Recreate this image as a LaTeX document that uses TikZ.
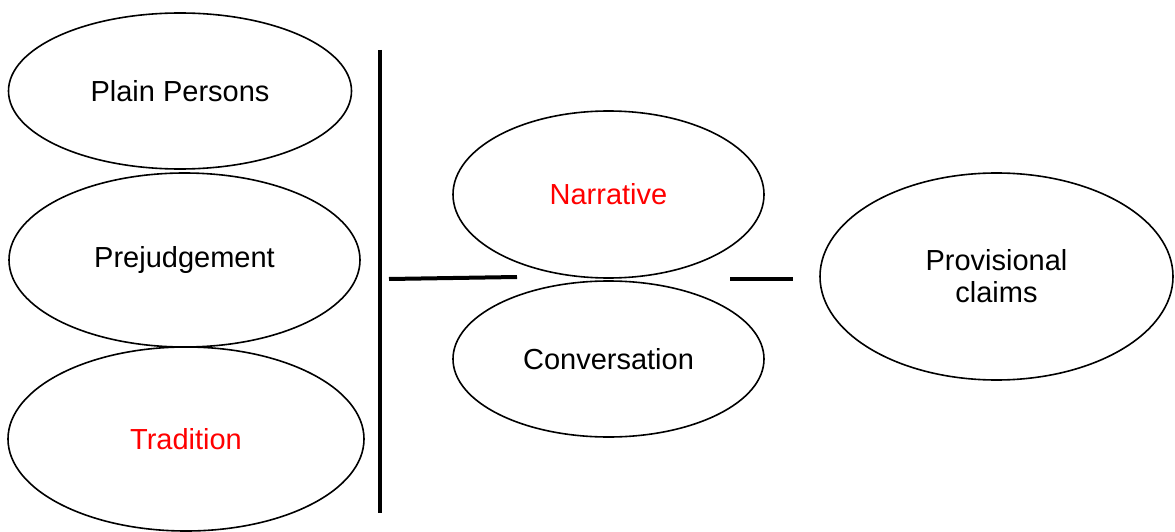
\documentclass[tikz,border=0pt]{standalone}
\usepackage{fontspec}
\setmainfont{Liberation Sans}
\usetikzlibrary{shapes.geometric}
\definecolor{accent}{RGB}{255,0,0}
\begin{document}
\begin{tikzpicture}[x=1pt,y=-1pt,
  oval/.style={draw=black, ellipse, line width=1.6pt, inner sep=0pt,
    font=\fontsize{29}{32}\selectfont, align=center},
  bar/.style={line width=4pt, black}]
\useasboundingbox (0,0) rectangle (1175,532);
\node[oval, minimum width=343pt, minimum height=156pt] (plain) at (180,91) {Plain Persons};
\node[oval, minimum width=351pt, minimum height=174pt] (prej) at (184.5,260) {Prejudgement};
\node[oval, minimum width=356pt, minimum height=184pt, text=accent] (trad) at (186,439) {Tradition};
\node[oval, minimum width=311pt, minimum height=167pt, text=accent] (narr) at (608.5,194.5) {Narrative};
\node[oval, minimum width=311pt, minimum height=156pt] (conv) at (608.5,359) {Conversation};
\node[oval, minimum width=353pt, minimum height=207pt] (prov) at (996.5,276.5) {Provisional\\claims};
\coordinate (vtop) at (380,50);
\coordinate (vbot) at (380,513);
\coordinate (la) at (389,279);
\coordinate (lb) at (517,277);
\coordinate (ra) at (730,279);
\coordinate (rb) at (793,279);
\draw[bar] (vtop) -- (vbot);
\draw[bar] (la) -- (lb);
\draw[bar] (ra) -- (rb);
\end{tikzpicture}
\end{document}
